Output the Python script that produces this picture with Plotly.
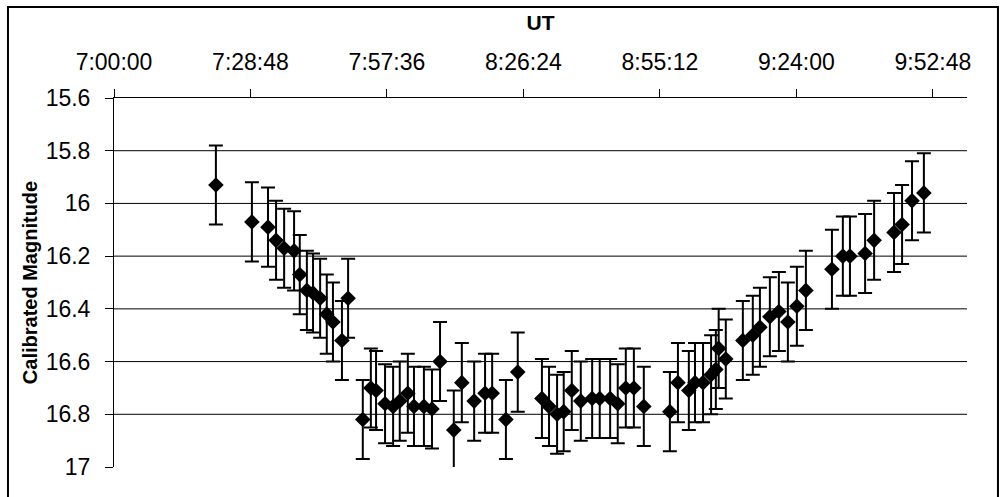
import pandas as pd
import plotly.graph_objects as go

# UT times of each observation
ut_times = [
    "7:21:30", "7:29:06", "7:32:30", "7:34:12", "7:35:54", "7:38:00", "7:39:12",
    "7:40:42", "7:42:00", "7:43:30", "7:44:54", "7:46:12", "7:48:06", "7:49:24",
    "7:52:30", "7:54:12", "7:55:18", "7:57:12", "7:58:54", "8:00:18", "8:02:00",
    "8:03:18", "8:05:24", "8:07:06", "8:08:48", "8:11:42", "8:13:24", "8:16:00",
    "8:18:18", "8:19:48", "8:22:42", "8:25:12", "8:30:18", "8:31:48", "8:33:30",
    "8:34:54", "8:36:36", "8:38:30", "8:40:54", "8:42:30", "8:44:42", "8:46:18",
    "8:48:00", "8:49:42", "8:51:48", "8:57:18", "8:59:00", "9:01:18", "9:02:36",
    "9:04:18", "9:06:00", "9:07:00", "9:07:36", "9:09:06", "9:12:42", "9:14:48",
    "9:16:18", "9:18:24", "9:20:18", "9:22:12", "9:24:06", "9:26:00", "9:31:30",
    "9:33:48", "9:35:18", "9:38:30", "9:40:24", "9:44:36", "9:46:18", "9:48:24",
    "9:50:54",
]

# Calibrated magnitudes
magnitudes = [
    15.93, 16.07, 16.09, 16.14, 16.17, 16.18, 16.27,
    16.33, 16.34, 16.36, 16.42, 16.45, 16.52, 16.36,
    16.82, 16.70, 16.71, 16.76, 16.77, 16.75, 16.72,
    16.77, 16.77, 16.78, 16.60, 16.86, 16.68, 16.75,
    16.72, 16.72, 16.82, 16.64, 16.74, 16.77, 16.80,
    16.79, 16.71, 16.75, 16.74, 16.74, 16.74, 16.76,
    16.70, 16.70, 16.77, 16.79, 16.68, 16.71, 16.68,
    16.68, 16.65, 16.63, 16.55, 16.59, 16.52, 16.50,
    16.47, 16.43, 16.41, 16.45, 16.39, 16.33, 16.25,
    16.20, 16.20, 16.19, 16.14, 16.11, 16.08, 15.99,
    15.96,
]

# Magnitude uncertainty (same for every point)
mag_error = 0.15

# Axes
y_ticks = [15.6, 15.8, 16.0, 16.2, 16.4, 16.6, 16.8, 17.0]
y_grid = [15.8, 16.0, 16.2, 16.4, 16.6, 16.8]
x_start = "2000-01-01 07:00:00"
x_end = "2000-01-01 10:00:00"
x_step_ms = 28.8 * 60 * 1000  # 0.02 day

x_vals = pd.to_datetime(["2000-01-01 " + t for t in ut_times], format="%Y-%m-%d %H:%M:%S")

fig = go.Figure()
fig.add_trace(go.Scatter(
    x=x_vals, y=magnitudes, mode="markers",
    marker=dict(symbol="diamond", size=12, color="black"),
    error_y=dict(type="constant", value=mag_error, thickness=2, width=7, color="black"),
    showlegend=False,
))

font_family = "Liberation Sans, Arial, sans-serif"

shapes = []
for g in y_grid:
    shapes.append(dict(type="line", xref="paper", yref="y", x0=0, x1=1, y0=g, y1=g,
                       line=dict(color="black", width=1), layer="below"))
# outer chart border
shapes.append(dict(type="rect", xref="paper", yref="paper",
                   x0=-0.1243, x1=1.0363, y0=-0.3, y1=1.2466,
                   line=dict(color="black", width=2)))

fig.update_layout(
    width=1004, height=497,
    margin=dict(l=114, r=37, t=98, b=30),
    paper_bgcolor="white", plot_bgcolor="white",
    font=dict(family=font_family, color="black", size=23),
    shapes=shapes,
    xaxis=dict(
        type="date", side="top", range=[x_start, x_end],
        tick0=x_start, dtick=x_step_ms, tickformat="%-H:%M:%S",
        showline=True, linecolor="black", linewidth=1,
        ticks="outside", ticklen=8, tickcolor="black", tickwidth=1,
        showgrid=False, zeroline=False,
        tickfont=dict(size=23),
        ticklabelstandoff=10,
        title=dict(text="<b>UT</b>", font=dict(size=21), standoff=12),
    ),
    yaxis=dict(
        range=[17, 15.6], tickvals=y_ticks,
        showline=True, linecolor="black", linewidth=1,
        ticks="outside", ticklen=8, tickcolor="black", tickwidth=1,
        showgrid=False, zeroline=False,
        tickfont=dict(size=23),
        ticklabelstandoff=10,
        title=dict(text="<b>Calibrated Magnitude</b>", font=dict(size=20), standoff=2),
    ),
)

fig.write_html("out.html")
